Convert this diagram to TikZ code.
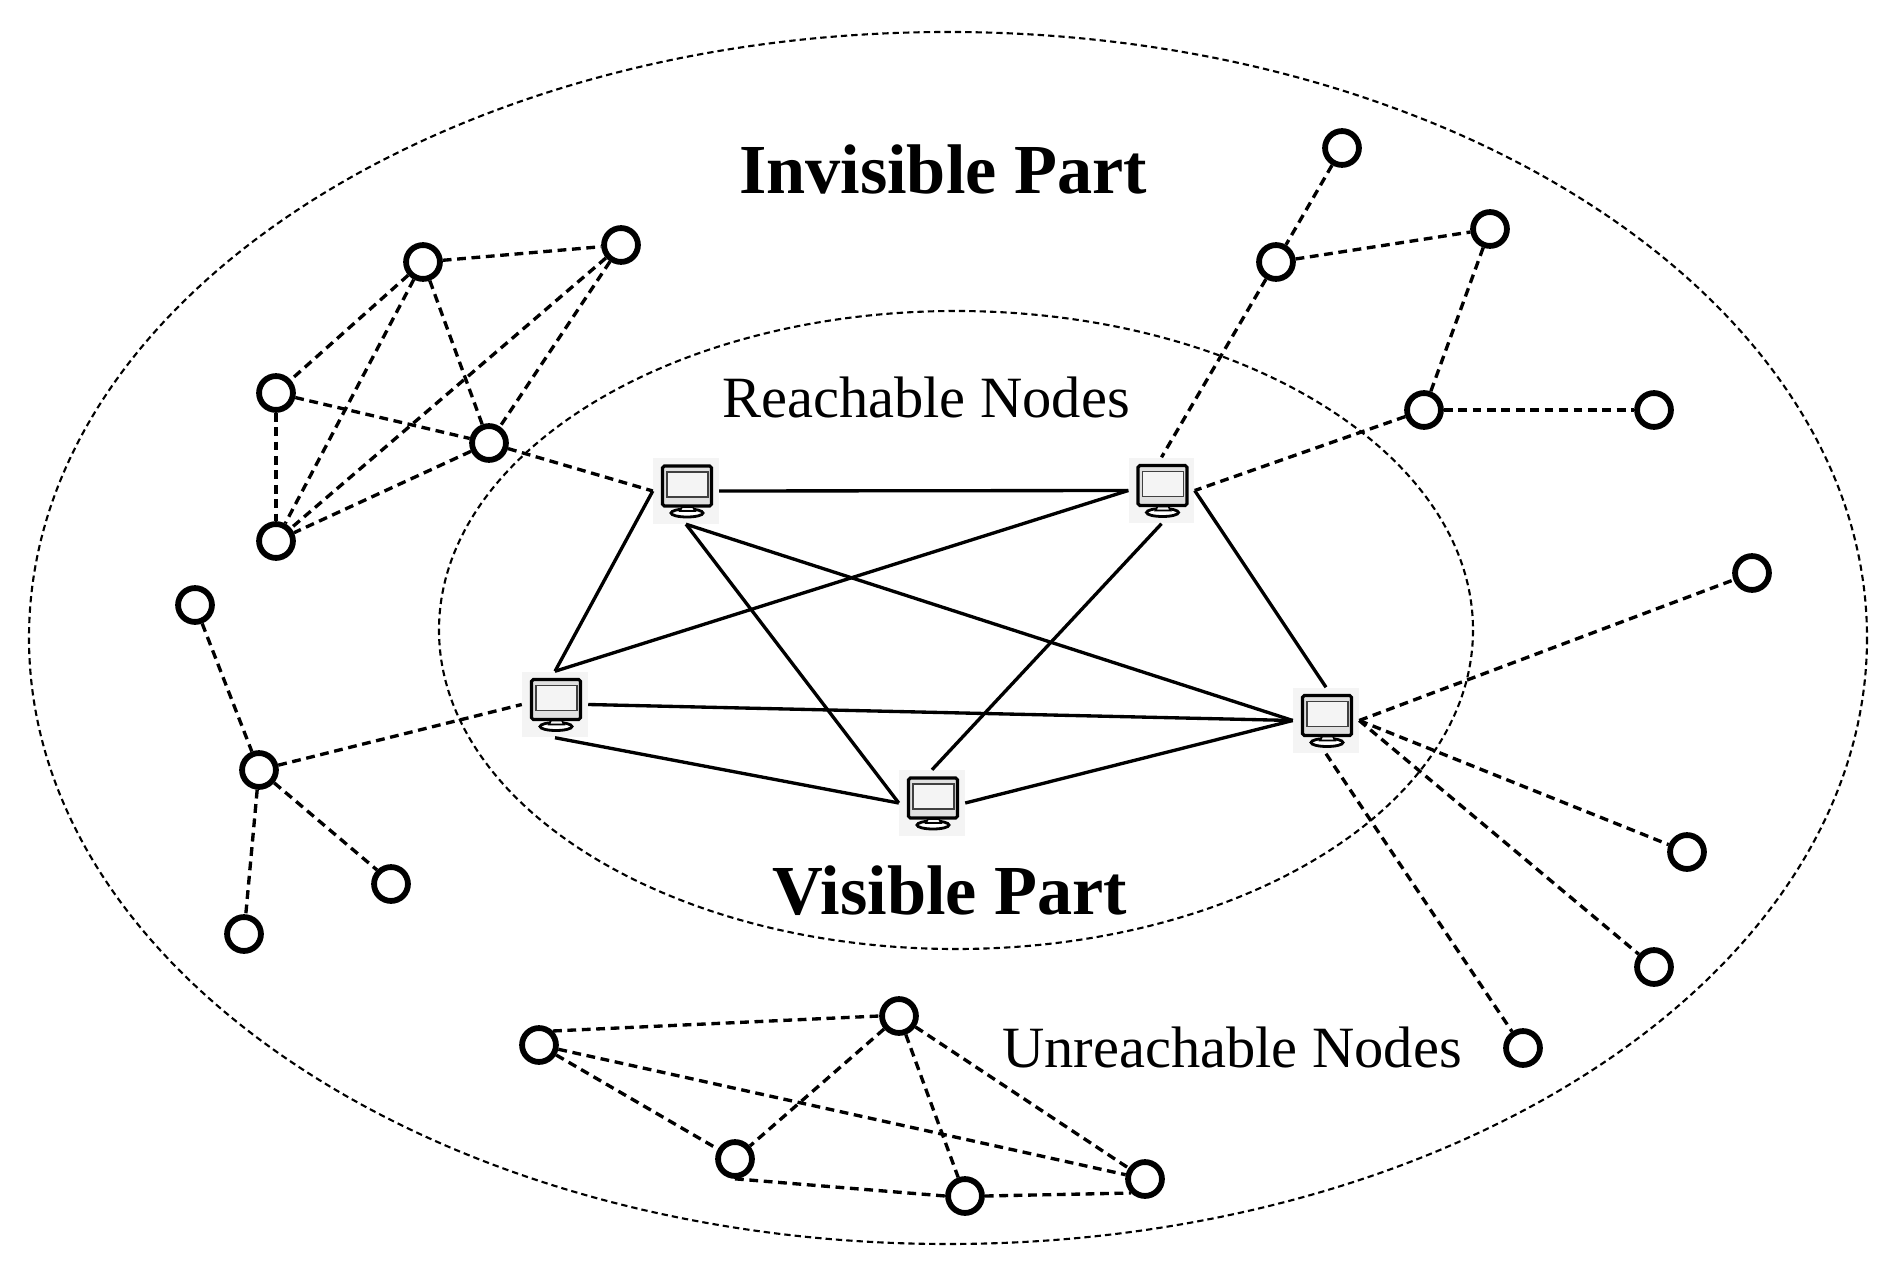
\documentclass[tikz,border=0pt]{standalone}
\usepackage{fontspec}
\setmainfont{Liberation Serif}
\definecolor{pcback}{HTML}{F4F4F4}
\tikzset{
  peer/.style={circle, draw=black, fill=white, line width=3.3pt, inner sep=0pt, minimum size=34*0.567pt},
  pc/.style={rectangle, fill=pcback, inner sep=0pt, minimum size=66*0.567pt, path picture={
    \begin{scope}[shift={(path picture bounding box.center)}]
      \draw[black, line width=1.8pt, rounded corners=1pt, fill=pcback!92!black] (-23.5,-25) rectangle (25.5,15);
      \draw[black!75, line width=0.7pt, fill=pcback] (-19,-19) rectangle (22,6);
      \draw[black, line width=1.6pt, fill=white] (1,22) ellipse [x radius=16, y radius=4];
      \draw[black, line width=1pt, fill=pcback] (-4,16) -- (7,16) -- (9,20) -- (-6,20) -- cycle;
    \end{scope}}},
  link/.style={draw=black, line width=1.9pt},
  dlink/.style={draw=black, line width=1.9pt, dash pattern=on 5pt off 3.2pt},
  zone/.style={draw=black, line width=1.2pt, dash pattern=on 3.6pt off 2.3pt},
  big/.style={font=\fontsize{40}{40}\selectfont\bfseries, inner sep=0pt},
  lbl/.style={font=\fontsize{33.3}{33.3}\selectfont, inner sep=0pt},
}
\begin{document}
\begin{tikzpicture}[x=0.02cm,y=-0.02cm]
  \useasboundingbox (0,0) rectangle (1903,1287);
  % the two parts
  \draw[zone] (948,638) ellipse [x radius=919, y radius=606];
  \draw[zone] (956,630) ellipse [x radius=517, y radius=319];
  \node[big] (invisible) at (943,169) {Invisible Part};
  \node[big] (visible) at (950,891) {Visible Part};
  \node[lbl] (reachable) at (926,397) {Reachable Nodes};
  \node[lbl] (unreachable) at (1232,1047) {Unreachable Nodes};
  % reachable computers
  \node[pc] (pcA) at (686,491) {};
  \node[pc] (pcB) at (1161.5,490.5) {};
  \node[pc] (pcC) at (555,704.5) {};
  \node[pc] (pcD) at (932,803) {};
  \node[pc] (pcE) at (1326,720.5) {};
  % upper left group
  \node[peer] (a1) at (423,262) {};
  \node[peer] (a2) at (621,245) {};
  \node[peer] (a3) at (276,393) {};
  \node[peer] (a4) at (489,443) {};
  \node[peer] (a5) at (276,541) {};
  % left group
  \node[peer] (b1) at (195,605) {};
  \node[peer] (b2) at (259,770) {};
  \node[peer] (b3) at (391,884) {};
  \node[peer] (b4) at (244,934) {};
  % lower group
  \node[peer] (c1) at (539,1045) {};
  \node[peer] (c2) at (899,1016) {};
  \node[peer] (c3) at (735,1159) {};
  \node[peer] (c4) at (965,1196) {};
  \node[peer] (c5) at (1145,1179) {};
  % upper right group
  \node[peer] (d1) at (1342,148) {};
  \node[peer] (d2) at (1276,262) {};
  \node[peer] (d3) at (1490,229) {};
  \node[peer] (d4) at (1424,410) {};
  \node[peer] (d5) at (1654,410) {};
  % right group
  \node[peer] (e1) at (1752,573) {};
  \node[peer] (e2) at (1687,852) {};
  \node[peer] (e3) at (1654,967) {};
  \node[peer] (e4) at (1523,1048) {};
  % links between computers
  \draw[link] (pcA.east) -- (pcB.west);
  \draw[link] (pcA.west) -- (pcC.north);
  \draw[link] (pcA.south) -- (pcD.west);
  \draw[link] (pcA.south) -- (pcE.west);
  \draw[link] (pcB.west) -- (pcC.north);
  \draw[link] (pcB.south) -- (pcD.north);
  \draw[link] (pcB.east) -- (pcE.north);
  \draw[link] (pcC.east) -- (pcE.west);
  \draw[link] (pcC.south) -- (pcD.west);
  \draw[link] (pcD.east) -- (pcE.west);
  % dashed links
  \draw[dlink] (a1) -- (a2);
  \draw[dlink] (a1) -- (a3);
  \draw[dlink] (a1) -- (a4);
  \draw[dlink] (a1) -- (a5);
  \draw[dlink] (a2) -- (a4);
  \draw[dlink] (a2) -- (a5);
  \draw[dlink] (a3) -- (a4);
  \draw[dlink] (a3) -- (a5);
  \draw[dlink] (a4) -- (a5);
  \draw[dlink] (a4) -- (pcA.west);
  \draw[dlink] (b1) -- (b2);
  \draw[dlink] (b2) -- (b3.north west);
  \draw[dlink] (b2) -- (b4);
  \draw[dlink] (b2) -- (pcC.west);
  \draw[dlink] (c1.north east) -- (c2.west);
  \draw[dlink] (c1) -- (c3);
  \draw[dlink] (c1) -- (c5);
  \draw[dlink] (c2) -- (c3);
  \draw[dlink] (c2) -- (c4);
  \draw[dlink] (c2) -- (c5);
  \draw[dlink] (c3.south) -- (c4.west);
  \draw[dlink] (c4.east) -- (c5.south west);
  \draw[dlink] (d1) -- (d2);
  \draw[dlink] (d2) -- (d3);
  \draw[dlink] (d3) -- (d4);
  \draw[dlink] (d4) -- (d5);
  \draw[dlink] (d2) -- (pcB.north);
  \draw[dlink] (d4) -- (pcB.east);
  \draw[dlink] (pcE.east) -- (e1);
  \draw[dlink] (pcE.east) -- (e2);
  \draw[dlink] (pcE.east) -- (e3);
  \draw[dlink] (pcE.south) -- (e4);
\end{tikzpicture}
\end{document}
